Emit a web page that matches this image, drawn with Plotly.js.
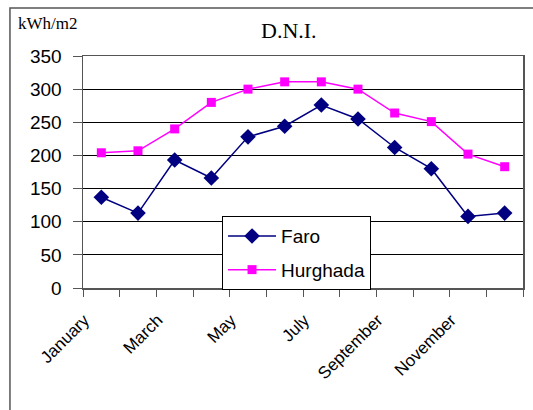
<!DOCTYPE html>
<html><head><meta charset="utf-8">
<script src="https://cdn.plot.ly/plotly-3.0.1.min.js"></script>
<style>html,body{margin:0;padding:0;background:#fff}#c{width:533px;height:410px}</style>
</head><body><div id="c"></div>
<script>
const months = ["January","February","March","April","May","June","July","August","September","October","November","December"];
const tickLabels = ["January","","March","","May","","July","","September","","November",""];
const faro = [137,113,193,166,228,244,276,255,212,180,108,113];
const hurghada = [204,207,240,280,300,311,311,300,264,251,202,183];

const traces = [
  {x: months, y: faro, name: "Faro", type: "scatter", mode: "lines+markers", legendgroup: "a",
   line: {color: "#000080", width: 1.5},
   marker: {symbol: "diamond", size: 12, color: "#000080"}},
  {x: months, y: hurghada, name: "Hurghada", type: "scatter", mode: "lines+markers", legendgroup: "b",
   line: {color: "#FF00FF", width: 1.5},
   marker: {symbol: "square", size: 9, color: "#FF00FF"}}
];

const layout = {
  width: 533, height: 410,
  margin: {l: 83, r: 10, t: 56, b: 122},
  paper_bgcolor: "#fff", plot_bgcolor: "#fff",
  showlegend: true,
  font: {family: "Liberation Sans, Arial, sans-serif", color: "#000"},
  xaxis: {type: "category", tickson: "boundaries", tickvals: months, ticktext: tickLabels,
    tickangle: -45, ticks: "outside", ticklen: 7, tickcolor: "#555",
    ticklabelstandoff: 14, ticklabelshift: -17,
    showline: true, linecolor: "#555", linewidth: 1.5, mirror: true,
    showgrid: false, tickfont: {size: 17}, range: [-0.5, 11.5]},
  yaxis: {range: [0, 350], dtick: 50, ticks: "outside", ticklen: 9, tickcolor: "#555",
    ticklabelstandoff: 7,
    showline: true, linecolor: "#555", linewidth: 1.5, mirror: true,
    showgrid: true, gridcolor: "#000", gridwidth: 1, zeroline: false,
    tickfont: {size: 19}},
  legend: {x: 0.316, y: 0.31, xanchor: "left", yanchor: "top",
    bgcolor: "#fff", bordercolor: "#000", borderwidth: 1,
    font: {size: 19}, tracegroupgap: 6, traceorder: "grouped", itemwidth: 48},
  annotations: [
    {text: "D.N.I.", xref: "paper", yref: "paper", x: 0.468, y: 1.112, yanchor: "middle",
     showarrow: false, font: {family: "Liberation Serif, Times New Roman, serif", size: 22}},
    {text: "kWh/m2", xref: "paper", yref: "paper", x: -0.152, y: 1.142, xanchor: "left", yanchor: "middle",
     showarrow: false, font: {family: "Liberation Serif, Times New Roman, serif", size: 17}}
  ],
  shapes: [
    {type: "rect", xref: "paper", yref: "paper", x0: -0.166, y0: -1, x1: 1.2, y1: 1.207,
     line: {color: "#555", width: 1.5}, fillcolor: "rgba(0,0,0,0)", layer: "below"}
  ]
};
Plotly.newPlot("c", traces, layout, {displayModeBar: false, staticPlot: true});
</script></body></html>
